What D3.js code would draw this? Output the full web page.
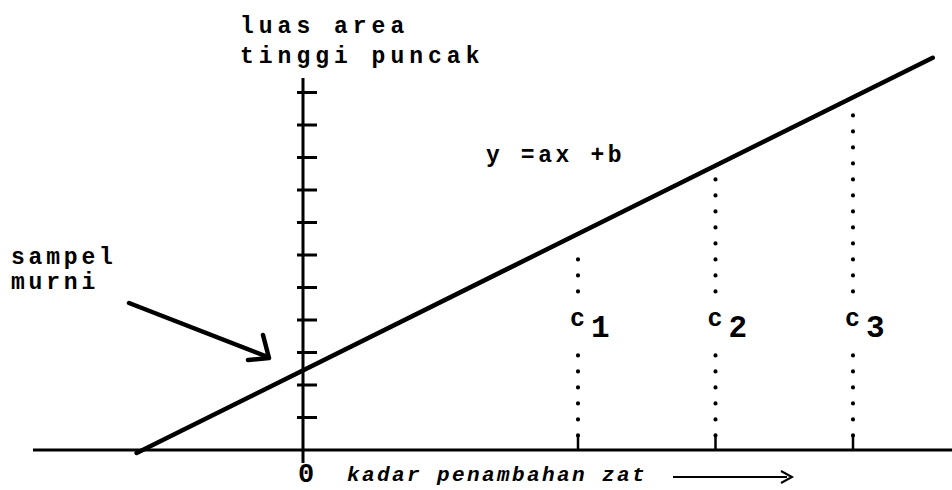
<!DOCTYPE html>
<html>
<head>
<meta charset="utf-8">
<script src="https://cdn.jsdelivr.net/npm/d3@7"></script>
<style>
  html, body { margin: 0; padding: 0; background: #fff; }
  svg { display: block; }
  text { font-family: "Liberation Mono", "DejaVu Sans Mono", monospace; fill: #000; }
</style>
</head>
<body>
<svg id="chart" width="952" height="490"></svg>
<script>
// Standard-addition calibration sketch: response vs. added concentration
const yTickValues = [1, 2, 3, 4, 5, 6, 7, 8, 9, 10, 11];
const additions = [2, 3, 4];            // c1, c2, c3 on the concentration axis
const additionLabels = ["1", "2", "3"]; // subscripts of c
const slopeA = 2.1;                      // a in y = ax + b
const interceptB = 2.45;                 // b (pure sample response)
const lineExtent = [-1.21, 4.58];        // drawn x-range of the fitted line
const yAxisTitle = ["luas area", "tinggi puncak"];
const sampleLabel = ["sampel", "murni"];
const equationLabel = "y =ax +b";
const xAxisTitle = "kadar penambahan zat";
const originLabel = "0";

const svg = d3.select("#chart");
const x = d3.scaleLinear().domain([0, 1]).range([303, 440.5]);
const y = d3.scaleLinear().domain([0, 1]).range([450, 417.5]);

// horizontal axis
svg.append("line")
  .attr("x1", 33).attr("x2", 952)
  .attr("y1", y(0)).attr("y2", y(0))
  .attr("stroke", "#000").attr("stroke-width", 3);

// vertical axis with tick marks
svg.append("line")
  .attr("x1", x(0)).attr("x2", x(0))
  .attr("y1", y(11.45)).attr("y2", y(-0.4))
  .attr("stroke", "#000").attr("stroke-width", 3);

svg.append("g").selectAll("line").data(yTickValues).join("line")
  .attr("x1", x(0) - 6).attr("x2", x(0) + 14)
  .attr("y1", d => y(d)).attr("y2", d => y(d))
  .attr("stroke", "#000").attr("stroke-width", 3);

// dotted drop lines from the fitted line to each addition
const fit = v => slopeA * v + interceptB;
svg.append("g").selectAll("line").data(additions).join("line")
  .attr("x1", d => x(d)).attr("x2", d => x(d))
  .attr("y1", y(0.45)).attr("y2", d => y(fit(d) - 0.3))
  .attr("stroke", "#000").attr("stroke-width", 4.2)
  .attr("stroke-linecap", "round")
  .attr("stroke-dasharray", "0,16");

// short marks on the concentration axis
svg.append("g").selectAll("line").data(additions).join("line")
  .attr("x1", d => x(d)).attr("x2", d => x(d))
  .attr("y1", y(0.45)).attr("y2", y(0))
  .attr("stroke", "#000").attr("stroke-width", 2.5);

// c1, c2, c3 labels sitting over the dotted lines
const cl = svg.append("g").selectAll("g").data(additions).join("g")
  .attr("transform", d => `translate(${x(d)},0)`);
cl.append("rect")
  .attr("x", -12).attr("y", 298).attr("width", 34).attr("height", 50)
  .attr("fill", "#fff");
cl.append("text")
  .attr("x", -8).attr("y", 326)
  .attr("font-size", 25).attr("font-weight", "bold")
  .text("c");
cl.append("text")
  .attr("x", 13).attr("y", 337)
  .attr("font-size", 31).attr("font-weight", "bold")
  .text((d, i) => additionLabels[i]);

// fitted line y = ax + b
svg.append("line")
  .attr("x1", x(lineExtent[0])).attr("y1", y(fit(lineExtent[0])))
  .attr("x2", x(lineExtent[1])).attr("y2", y(fit(lineExtent[1])))
  .attr("stroke", "#000").attr("stroke-width", 4.5)
  .attr("stroke-linecap", "round");

// axis titles and annotations
const labelText = (str, px, py, opts = {}) => svg.append("text")
  .attr("x", px).attr("y", py)
  .attr("font-size", opts.size || 23)
  .attr("font-weight", opts.weight || "bold")
  .attr("font-style", opts.style || "normal")
  .attr("letter-spacing", opts.ls != null ? opts.ls : 5)
  .text(str);

labelText(yAxisTitle[0], 240, 33);
labelText(yAxisTitle[1], 240, 63);
labelText(equationLabel, 486, 162, { ls: 3.6 });
labelText(sampleLabel[0], 11, 264, { ls: 3.8 });
labelText(sampleLabel[1], 11, 289, { ls: 3.8 });

svg.append("text")
  .attr("x", x(0) + 3).attr("y", 482)
  .attr("text-anchor", "middle")
  .attr("font-size", 27).attr("font-weight", "bold")
  .text(originLabel);

labelText(xAxisTitle, 347, 481, { size: 21, style: "italic", ls: 2.4 });

// arrow after the concentration axis title
svg.append("line")
  .attr("x1", 673).attr("x2", 787).attr("y1", 477).attr("y2", 477)
  .attr("stroke", "#000").attr("stroke-width", 2);
svg.append("path")
  .attr("d", "M781,471 L792,477 L781,483")
  .attr("fill", "none").attr("stroke", "#000").attr("stroke-width", 2);

// pointer from "sampel murni" to the intercept
svg.append("path")
  .attr("d", "M129,303 L268,357")
  .attr("fill", "none").attr("stroke", "#000").attr("stroke-width", 4.5)
  .attr("stroke-linecap", "round");
svg.append("path")
  .attr("d", "M263,335 L269,358 L248,360")
  .attr("fill", "none").attr("stroke", "#000").attr("stroke-width", 4.5)
  .attr("stroke-linecap", "round").attr("stroke-linejoin", "round");
</script>
</body>
</html>
